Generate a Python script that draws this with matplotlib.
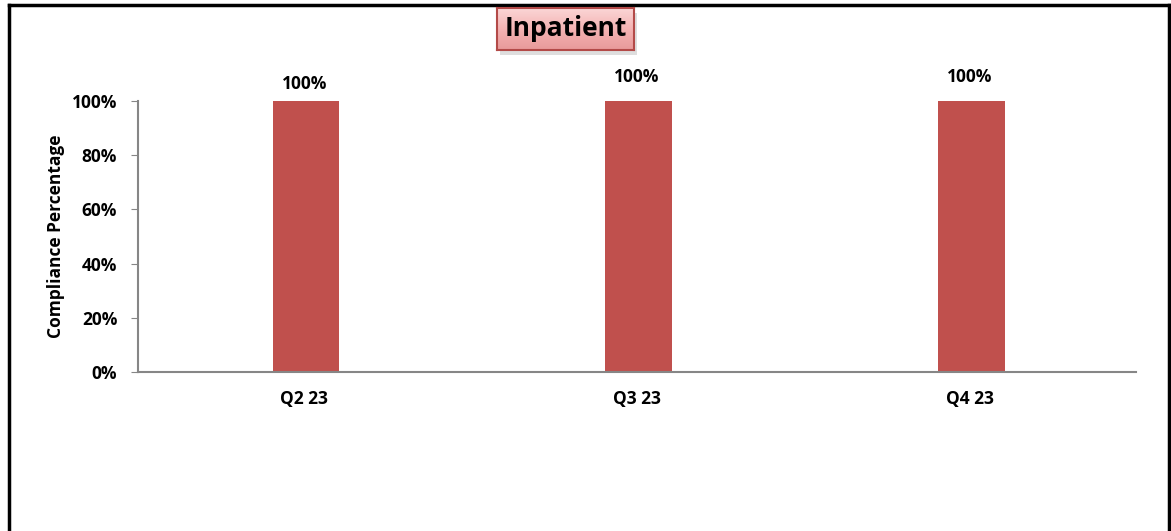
import numpy as np
import matplotlib
matplotlib.use("Agg")
import matplotlib.pyplot as plt
from matplotlib.lines import Line2D
from matplotlib.patches import Rectangle

# Data
quarters = ["Q2 23", "Q3 23", "Q4 23"]
compliance = [1.00, 1.00, 1.00]
yticks = [0, 0.2, 0.4, 0.6, 0.8, 1.0]

plt.rcParams['font.family'] = ['Open Sans', 'DejaVu Sans']

W, H = 1171, 531
fig = plt.figure(figsize=(W / 100, H / 100), dpi=100)

# Outer frame (left, top, right only)
lw = 2.5
fig.add_artist(Line2D([9 / W, 9 / W], [0, 1 - 5 / H], color='black', lw=lw))
fig.add_artist(Line2D([9 / W, 1169 / W], [1 - 5 / H, 1 - 5 / H], color='black', lw=lw))
fig.add_artist(Line2D([1169 / W, 1169 / W], [0, 1 - 5 / H], color='black', lw=lw))

ax = fig.add_axes([138 / W, 1 - 372 / H, (1136 - 138) / W, (372 - 101) / H])
x = np.arange(len(quarters))
bars = ax.bar(x + 0.005, compliance, width=0.2, color='#c0504d')

ax.set_xlim(-0.5, len(quarters) - 0.5)
ax.set_ylim(0, 1.0)
ax.set_yticks(yticks)
ax.set_yticklabels([f"{int(round(v * 100))}%" for v in yticks], fontsize=12.5, fontweight='bold')
ax.set_xticks(x)
ax.set_xticklabels(quarters, fontsize=12.5, fontweight='bold')
ax.tick_params(axis='x', length=0, pad=13)
ax.tick_params(axis='y', length=5, color='#868686', direction='out', pad=10)
for s in ['top', 'right']:
    ax.spines[s].set_visible(False)
ax.spines['left'].set_color('#868686')
ax.spines['bottom'].set_color('#868686')
ax.spines['left'].set_linewidth(1.5)
ax.spines['bottom'].set_linewidth(1.5)
ax.set_ylabel("Compliance Percentage", fontsize=12.5, fontweight='bold', labelpad=5)

# data labels (Excel placed the first one a little lower)
offsets = [17, 24, 24]
for xi, v, off in zip(x, compliance, offsets):
    ax.annotate(f"{int(round(v * 100))}%", (xi, v), xytext=(0, off), textcoords='offset pixels',
                ha='center', va='center', fontsize=12.5, fontweight='bold', annotation_clip=False)

# Title box with gradient and shadow
bx0, bx1, by0, by1 = 497, 634, 8, 50
shadow = Rectangle(((bx0 + 3) / W, 1 - (by1 + 5) / H), (bx1 - bx0) / W, (by1 - by0) / H,
                   transform=fig.transFigure, facecolor='#c8c8c8', edgecolor='none', alpha=0.6, zorder=1)
fig.add_artist(shadow)
tax = fig.add_axes([bx0 / W, 1 - by1 / H, (bx1 - bx0) / W, (by1 - by0) / H], zorder=2)
grad = np.linspace(0, 1, 64).reshape(-1, 1)
cmap = matplotlib.colors.LinearSegmentedColormap.from_list('pk', ['#fbd6d6', '#f4b3b3', '#e89a9a'])
tax.imshow(grad, aspect='auto', cmap=cmap, extent=[0, 1, 0, 1], origin='upper')
tax.set_xticks([])
tax.set_yticks([])
for s in tax.spines.values():
    s.set_color('#b34a48')
    s.set_linewidth(1.5)
tax.text(0.5, 0.5, "Inpatient", ha='center', va='center', fontsize=19, fontweight='bold',
         color='black', transform=tax.transAxes)

fig.savefig("out.png", dpi=100)
